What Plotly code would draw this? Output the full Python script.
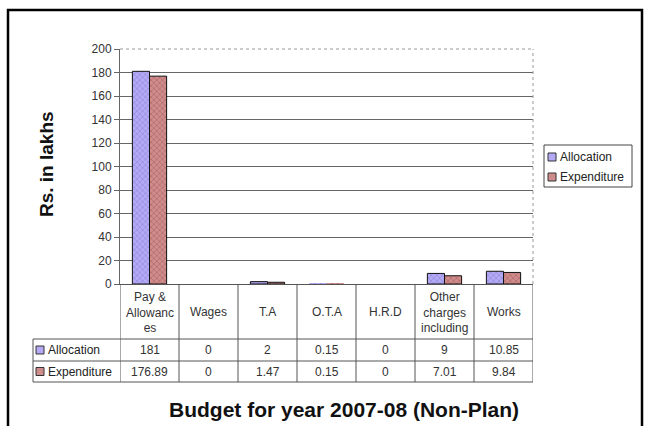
import plotly.graph_objects as go

categories = ["Pay &<br>Allowanc<br>es", "Wages", "T.A", "O.T.A", "H.R.D", "Other<br>charges<br>including", "Works"]
allocation = [181, 0, 2, 0.15, 0, 9, 10.85]
expenditure = [176.89, 0, 1.47, 0.15, 0, 7.01, 9.84]
series_names = ["Allocation", "Expenditure"]
y_ticks = [0, 20, 40, 60, 80, 100, 120, 140, 160, 180, 200]

FONT = "Liberation Sans, Arial, sans-serif"
W, H = 647, 426
L, R, T, B = 120, 114, 49, 142
PW, PH = W - L - R, H - T - B

def px_x(px):
    return (px - L) / PW

def px_y(py):
    return (H - B - py) / PH

cols = {"Allocation": ("#b3a9f4", "#7d74cf"), "Expenditure": ("#cf8c8c", "#9a4c4c")}

xs = list(range(len(categories)))
fig = go.Figure()
for name, vals in zip(series_names, [allocation, expenditure]):
    bg, fg = cols[name]
    fig.add_trace(go.Bar(
        x=xs, y=vals, name=name, showlegend=False,
        marker=dict(color=bg, line=dict(color="#111", width=[1 if v > 0.5 else 0 for v in vals]),
                    pattern=dict(shape="x", fgcolor=fg, bgcolor=bg, size=4, solidity=0.35)),
    ))

shapes = []
line_col = "#555"
for i in range(len(categories) + 1):
    shapes.append(dict(type="line", xref="x", yref="paper", x0=i - 0.5, x1=i - 0.5,
                       y0=0, y1=px_y(382), line=dict(color=line_col, width=1)))
shapes.append(dict(type="line", xref="paper", yref="paper", x0=px_x(33), x1=px_x(33),
                   y0=px_y(339), y1=px_y(382), line=dict(color=line_col, width=1)))
for py in (339, 361, 382):
    shapes.append(dict(type="line", xref="paper", yref="paper", x0=px_x(33), x1=px_x(533),
                       y0=px_y(py), y1=px_y(py), line=dict(color=line_col, width=1)))
shapes.append(dict(type="line", xref="paper", yref="paper", x0=0, x1=1, y0=1, y1=1,
                   line=dict(color="white", width=2)))
shapes.append(dict(type="line", xref="paper", yref="paper", x0=0, x1=1, y0=1, y1=1,
                   line=dict(color="#999", width=1, dash="dot")))
shapes.append(dict(type="line", xref="paper", yref="paper", x0=1, x1=1, y0=0, y1=1,
                   line=dict(color="#999", width=1, dash="dot")))
# table legend keys
for name, py in (("Allocation", 350), ("Expenditure", 371.5)):
    bg, fg = cols[name]
    shapes.append(dict(type="rect", xref="paper", yref="paper", x0=px_x(36), x1=px_x(44),
                       y0=px_y(py + 4), y1=px_y(py - 4),
                       fillcolor=bg, line=dict(color="#333", width=1)))
# side legend box and keys
shapes.append(dict(type="rect", xref="paper", yref="paper", x0=px_x(544), x1=px_x(632),
                   y0=px_y(187), y1=px_y(145), fillcolor="white", line=dict(color="#444", width=1)))
for name, py in (("Allocation", 157), ("Expenditure", 177)):
    bg, fg = cols[name]
    shapes.append(dict(type="rect", xref="paper", yref="paper", x0=px_x(548), x1=px_x(556),
                       y0=px_y(py + 4), y1=px_y(py - 4),
                       fillcolor=bg, line=dict(color="#333", width=1)))
shapes.append(dict(type="rect", xref="paper", yref="paper", x0=px_x(8), x1=px_x(642),
                   y0=px_y(440), y1=px_y(10), line=dict(color="black", width=2.5)))

ann = []
tfont = dict(family=FONT, size=12, color="#333")
for i, c in enumerate(categories):
    ann.append(dict(x=i, y=px_y(312), xref="x", yref="paper", text=c, showarrow=False,
                    xanchor="center", yanchor="middle", font=tfont, align="center"))
for vals, py in ((allocation, 350), (expenditure, 371.5)):
    for i, v in enumerate(vals):
        ann.append(dict(x=i, y=px_y(py), xref="x", yref="paper", text=f"{v:g}", showarrow=False,
                        xanchor="center", yanchor="middle", font=tfont))
for name, py in (("Allocation", 350), ("Expenditure", 371.5)):
    ann.append(dict(x=px_x(46), y=px_y(py), xref="paper", yref="paper", text=name, showarrow=False,
                    xanchor="left", yanchor="middle", font=dict(family=FONT, size=12, color="#222")))
for name, py in (("Allocation", 157), ("Expenditure", 177)):
    ann.append(dict(x=px_x(558), y=px_y(py), xref="paper", yref="paper", text=name, showarrow=False,
                    xanchor="left", yanchor="middle", font=dict(family=FONT, size=12, color="#222")))
ann.append(dict(x=px_x(344), y=px_y(409), xref="paper", yref="paper",
                text="<b>Budget for year 2007-08 (Non-Plan)</b>", showarrow=False,
                xanchor="center", yanchor="middle",
                font=dict(family=FONT, size=21, color="#111")))
ann.append(dict(x=px_x(46), y=px_y(164), xref="paper", yref="paper",
                text="<b>Rs. in lakhs</b>", showarrow=False, textangle=-90,
                xanchor="center", yanchor="middle",
                font=dict(family=FONT, size=19, color="#111")))

fig.update_layout(
    width=W, height=H, margin=dict(l=L, r=R, t=T, b=B),
    paper_bgcolor="white", plot_bgcolor="white",
    barmode="group", bargap=0.42, bargroupgap=0,
    showlegend=False,
    shapes=shapes, annotations=ann,
    font=dict(family=FONT),
)
fig.update_xaxes(range=[-0.5, len(categories) - 0.5], showticklabels=False, showgrid=False,
                 showline=True, linecolor="#555", linewidth=1, zeroline=False, ticks="")
fig.update_yaxes(range=[0, 200], tickvals=y_ticks, showgrid=True, gridcolor="#666", gridwidth=1,
                 showline=True, linecolor="#666", linewidth=1, ticks="outside", ticklen=5,
                 tickcolor="#666", zeroline=False,
                 tickfont=dict(family=FONT, size=12, color="#333"))

fig.write_html("out.html")
